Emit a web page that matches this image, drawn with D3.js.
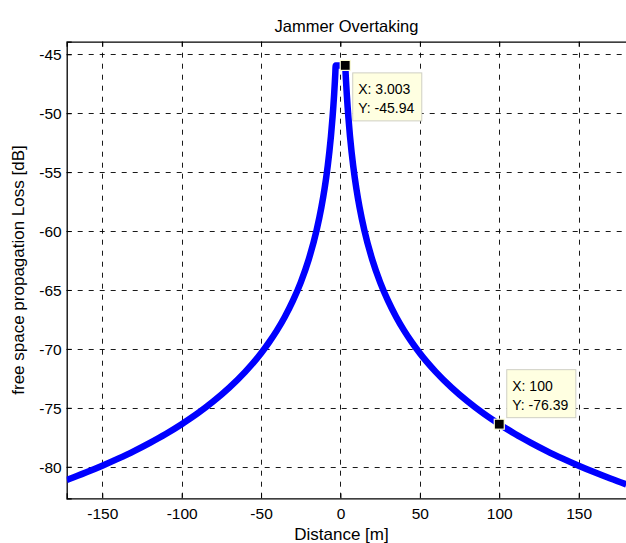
<!DOCTYPE html>
<html><head><meta charset="utf-8">
<script src="https://cdn.jsdelivr.net/npm/d3@7"></script>
<style>
html,body{margin:0;padding:0;background:#fff;}
svg{display:block;font-family:"Liberation Sans",Arial,Helvetica,sans-serif;}
</style></head><body>
<svg id="chart" width="626" height="543"></svg>
<script>
// ---- data ----
const distances = [-172.4,-170,-160,-150,-140,-130,-120,-110,-100,-90,-80,-70,-60,-50,-45,-40,-35,-30,-25,-20,-15,-12,-10,-9,-8,-7,-6,-5,-4.5,-4,-3.5,-3.25,-3.003,
  3.003,3.25,3.5,4,4.5,5,6,7,8,9,10,12,15,20,25,30,35,40,45,50,60,70,80,90,100,110,120,130,140,150,160,170,180];
const lossDb = [-81.12,-81.00,-80.47,-79.91,-79.31,-78.67,-77.97,-77.22,-76.39,-75.48,-74.45,-73.29,-71.95,-70.37,-69.45,-68.43,-67.27,-65.93,-64.35,-62.41,-59.91,-57.97,-56.39,-55.48,-54.45,-53.29,-51.95,-50.37,-49.45,-48.43,-47.27,-46.63,-45.94,
  -45.94,-46.63,-47.27,-48.43,-49.45,-50.37,-51.95,-53.29,-54.45,-55.48,-56.39,-57.97,-59.91,-62.41,-64.35,-65.93,-67.27,-68.43,-69.45,-70.37,-71.95,-73.29,-74.45,-75.48,-76.39,-77.22,-77.97,-78.67,-79.31,-79.91,-80.47,-81.00,-81.50];
const xTickValues = [-150,-100,-50,0,50,100,150];
const yTickValues = [-80,-75,-70,-65,-60,-55,-50,-45];
const xDomain = [-172.4, 180];
const yDomain = [-82.68, -43.93];
const tipX = [3.003, 100];
const tipY = [-45.94, -76.39];
const tipLabelX = ["X: 3.003", "X: 100"];
const tipLabelY = ["Y: -45.94", "Y: -76.39"];
const titleText = "Jammer Overtaking";
const xLabelText = "Distance [m]";
const yLabelText = "free space propagation Loss [dB]";

// ---- layout ----
const plot = {left: 66.7, right: 626.3, top: 41.7, bottom: 498.3};
const svg = d3.select("#chart");
const x = d3.scaleLinear().domain(xDomain).range([plot.left, plot.right]);
const y = d3.scaleLinear().domain(yDomain).range([plot.bottom, plot.top]);
const fmt = d => String(d);

svg.append("rect").attr("x",0).attr("y",0).attr("width",626).attr("height",543).attr("fill","#fff");
svg.append("defs").append("clipPath").attr("id","clip").append("rect")
  .attr("x",plot.left).attr("y",plot.top).attr("width",plot.right-plot.left).attr("height",plot.bottom-plot.top);

// grid
const grid = svg.append("g").attr("stroke","#000").attr("stroke-width",0.9).attr("stroke-dasharray","5,6");
grid.selectAll("line.vx").data(xTickValues).join("line")
  .attr("x1",d=>Math.round(x(d))+0.5).attr("x2",d=>Math.round(x(d))+0.5)
  .attr("y1",plot.top).attr("y2",plot.bottom);
grid.selectAll("line.hy").data(yTickValues).join("line")
  .attr("y1",d=>Math.round(y(d))+0.5).attr("y2",d=>Math.round(y(d))+0.5)
  .attr("x1",plot.left).attr("x2",plot.right);

// axes (ticks inside, MATLAB style)
const xAxisB = d3.axisBottom(x).tickValues(xTickValues).tickSize(-5).tickPadding(9).tickFormat(fmt);
const xAxisT = d3.axisTop(x).tickValues(xTickValues).tickSize(-5).tickFormat("");
const yAxisL = d3.axisLeft(y).tickValues(yTickValues).tickSize(-5).tickPadding(9).tickFormat(fmt);
const gB = svg.append("g").attr("transform",`translate(0,${plot.bottom})`).call(xAxisB);
const gT = svg.append("g").attr("transform",`translate(0,${plot.top})`).call(xAxisT);
const gL = svg.append("g").attr("transform",`translate(${plot.left},0)`).call(yAxisL);
[gB,gT,gL].forEach(g=>{
  g.select(".domain").attr("stroke","#000").attr("stroke-width",1.3);
  g.selectAll(".tick line").attr("stroke","#000").attr("stroke-width",1);
  g.selectAll(".tick text").attr("fill","#000").attr("font-size",15.5).attr("font-family",'"Liberation Sans",Arial,sans-serif');
});
gL.selectAll(".tick text").attr("x",-5).attr("dy","0.36em");
gB.selectAll(".tick text").attr("dy","0.75em");

// curve
const pts = distances.map((d,i)=>[d, lossDb[i]]);
const line = d3.line().x(d=>x(d[0])).y(d=>y(d[1])).curve(d3.curveMonotoneX);
svg.append("path").datum(pts).attr("clip-path","url(#clip)")
  .attr("d",line).attr("fill","none").attr("stroke","#0000ff").attr("stroke-width",6.5)
  .attr("stroke-linejoin","round");

// titles
svg.append("text").attr("x",(plot.left+plot.right)/2).attr("y",32).attr("text-anchor","middle")
  .attr("font-size",16.5).attr("fill","#000").text(titleText);
svg.append("text").attr("x",(plot.left+plot.right)/2 - 5).attr("y",540).attr("text-anchor","middle")
  .attr("font-size",17).attr("fill","#000").text(xLabelText);
svg.append("text").attr("transform",`translate(24,${(plot.top+plot.bottom)/2}) rotate(-90)`)
  .attr("text-anchor","middle").attr("font-size",17).attr("fill","#000").text(yLabelText);

// data tips
tipX.forEach((tx,i)=>{
  const px = x(tx), py = y(tipY[i]);
  const g = svg.append("g");
  const box = g.append("rect").attr("fill","#ffffe1").attr("stroke","#cfcfc4").attr("stroke-width",1);
  const t1 = g.append("text").attr("font-size",14).attr("fill","#000").text(tipLabelX[i]);
  const t2 = g.append("text").attr("font-size",14).attr("fill","#000").text(tipLabelY[i]);
  const w = Math.max(t1.node().getComputedTextLength(), t2.node().getComputedTextLength()) + 13;
  const h = 48;
  const below = tipY[i] > -60;
  const bx = px + 7, by = below ? py + 7 : py - 7 - h;
  box.attr("x",bx+0.5).attr("y",by+0.5).attr("width",w).attr("height",h);
  t1.attr("x",bx+6).attr("y",by+22);
  t2.attr("x",bx+6).attr("y",by+41);
  svg.append("rect").attr("x",px-5).attr("y",py-5).attr("width",10).attr("height",10)
    .attr("fill","#000").attr("stroke","#ffffd8").attr("stroke-width",1.2);
});
</script>
</body></html>
